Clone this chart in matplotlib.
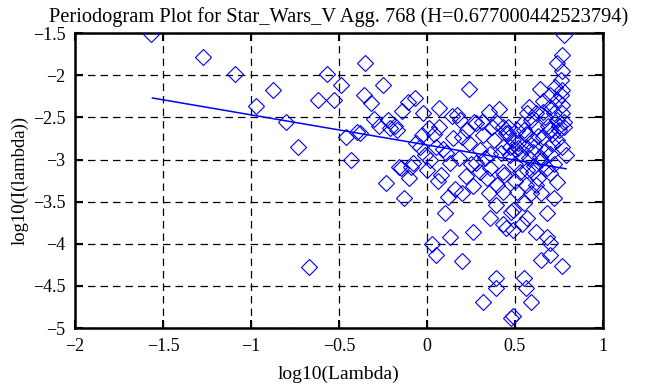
import matplotlib
matplotlib.use("Agg")
import matplotlib.pyplot as plt

title = "Periodogram Plot for Star_Wars_V Agg. 768 (H=0.677000442523794)"
x_label = "log10(Lambda)"
y_label = "log10(I(lambda))"

x_ticks = [-2, -1.5, -1, -0.5, 0, 0.5, 1]
x_tick_labels = ["\u22122", "\u22121.5", "\u22121", "\u22120.5", "0", "0.5", "1"]
y_ticks = [-5, -4.5, -4, -3.5, -3, -2.5, -2, -1.5]
y_tick_labels = ["\u22125", "\u22124.5", "\u22124", "\u22123.5", "\u22123", "\u22122.5", "\u22122", "\u22121.5"]

# periodogram points (log10 lambda, log10 I)
px = [-1.57, -1.27, -1.09, -0.97, -0.875, -0.80, -0.73, -0.67, -0.62, -0.57,
      -0.53, -0.49, -0.46, -0.43, -0.40, -0.35, -0.25, -0.36, -0.32, 0.24,
      0.64, -0.07, -0.11, -0.14, 0.07, -0.30, -0.22, -0.27, -0.18, -0.38,
      -0.03, 0.01, 0.07, -0.04, 0.02, 0.09, 0.17, 0.19, 0.23, 0.28,
      0.35, 0.32, 0.40, 0.43, 0.45, 0.51, 0.57, 0.59, 0.62, 0.66,
      0.70, 0.74, 0.76, 0.77, 0.73, 0.76, 0.77, 0.70, 0.55, 0.49,
      0.60, 0.66, 0.70, 0.74, 0.77, 0.77, 0.74, 0.70, 0.64, 0.60,
      0.53, 0.47, 0.43, 0.38, 0.36, 0.30, 0.24, 0.20, 0.28, 0.13,
      0.05, -0.08, -0.16, -0.17, -0.21, -0.15, -0.09, -0.10, -0.23, -0.13,
      0.10, 0.13, 0.03, 0.05, 0.20, 0.26, 0.20, 0.26, 0.30, 0.35,
      0.40, 0.43, 0.39, 0.36, 0.43, 0.48, 0.49, 0.45, 0.49, 0.54,
      0.57, 0.55, 0.59, 0.51, 0.56, 0.62, 0.65, 0.72, 0.68, 0.74,
      0.70, 0.60, 0.53, 0.43, 0.62, 0.68, 0.70, 0.70, 0.65, 0.77,
      0.39, 0.39, 0.32, 0.55, 0.56, 0.59, 0.48, 0.49, 0.78, 0.77,
      0.74, 0.77, 0.47, 0.50, 0.52, 0.56, 0.58, 0.61, 0.63, 0.67,
      0.69, 0.71, 0.72, 0.75, 0.78, 0.79, 0.68, 0.65, 0.61, 0.57,
      0.54, 0.50, 0.46, 0.42, 0.37, 0.33, 0.27, 0.22, 0.15, 0.11,
      0.04, -0.01, -0.06, 0.00, 0.08, 0.14, 0.18, 0.25, 0.31, 0.36,
      0.41, 0.46, 0.52, 0.58, 0.63, 0.67, 0.71, 0.75, 0.78, 0.72,
      0.66, 0.62, 0.56, 0.50, 0.44, 0.34, 0.16, 0.12, 0.06, -0.02]
py = [-1.51, -1.78, -1.99, -2.36, -2.18, -2.55, -2.85, -4.27, -2.29, -1.98,
      -2.29, -2.11, -2.73, -3.01, -2.67, -1.86, -2.12, -2.24, -2.33, -2.16,
      -2.16, -2.27, -2.32, -2.43, -2.39, -2.52, -2.53, -2.60, -2.60, -2.69,
      -2.71, -2.63, -2.61, -2.85, -3.00, -2.87, -2.47, -2.53, -2.65, -2.57,
      -2.44, -2.71, -2.57, -2.61, -2.69, -2.65, -2.45, -2.53, -2.61, -2.44,
      -2.38, -2.29, -2.24, -2.35, -2.14, -2.06, -2.18, -2.24, -2.65, -2.77,
      -2.77, -2.73, -2.65, -2.53, -2.45, -2.85, -2.77, -2.93, -2.97, -2.91,
      -2.93, -2.85, -2.85, -2.77, -2.93, -2.89, -2.81, -2.73, -3.04, -3.04,
      -2.85, -3.04, -3.09, -2.65, -2.63, -3.10, -3.09, -3.22, -3.28, -3.46,
      -3.64, -3.92, -4.00, -4.13, -4.20, -3.86, -3.40, -3.31, -3.15, -3.40,
      -3.30, -3.39, -3.54, -3.70, -3.76, -3.62, -3.60, -3.81, -3.84, -3.76,
      -3.70, -3.52, -3.40, -3.39, -3.30, -3.30, -3.40, -3.46, -3.64, -3.27,
      -3.16, -3.15, -3.15, -3.15, -3.86, -3.92, -3.99, -4.13, -4.19, -4.26,
      -4.41, -4.53, -4.69, -4.41, -4.53, -4.69, -4.88, -4.86, -1.52, -1.76,
      -1.86, -1.95, -2.95, -3.05, -2.80, -2.70, -2.98, -2.85, -2.72, -2.90,
      -2.60, -2.82, -3.05, -2.65, -2.55, -2.95, -3.10, -3.00, -3.08, -3.12,
      -2.58, -2.88, -2.68, -2.92, -2.62, -2.98, -2.55, -3.20, -2.75, -2.92,
      -2.70, -2.95, -2.80, -3.12, -3.18, -2.48, -2.98, -3.05, -2.55, -3.10,
      -2.40, -2.62, -2.86, -2.38, -3.22, -2.50, -2.70, -2.60, -2.62, -2.45,
      -2.30, -2.45, -2.85, -3.25, -3.18, -3.22, -3.35, -3.45, -3.25, -2.45]

# least-squares fit line end points
fit_x = [-1.56, 0.79]
fit_y = [-2.27, -3.11]

plt.rcParams['font.family'] = ['Liberation Serif', 'DejaVu Serif']
fig = plt.figure(figsize=(6.6, 3.85), dpi=100)
ax = fig.add_axes([0.1136, 0.148, 0.8, 0.766])

ax.plot(px, py, linestyle='none', marker='D', markersize=8.5,
        markerfacecolor='none', markeredgecolor='#0000ff', markeredgewidth=0.8, zorder=3)
ax.plot(fit_x, fit_y, color='#0000ff', linewidth=1.1, zorder=4)

ax.set_xlim(-2, 1)
ax.set_ylim(-5, -1.5)
ax.set_xticks(x_ticks)
ax.set_xticklabels(x_tick_labels)
ax.set_yticks(y_ticks)
ax.set_yticklabels(y_tick_labels)
ax.grid(True, color='black', linestyle=(0, (6, 4)), linewidth=0.9)
ax.set_axisbelow(True)
ax.tick_params(direction='in', length=6, width=1.5, top=True, right=True,
               labelsize=13, pad=7, colors='black')
for s in ax.spines.values():
    s.set_linewidth(1.8)
ax.set_xlabel(x_label, fontsize=14, labelpad=8)
ax.set_ylabel(y_label, fontsize=13.5, labelpad=3)
ax.set_title(title, fontsize=14.7, pad=8)

fig.savefig("out.png", dpi=100)
